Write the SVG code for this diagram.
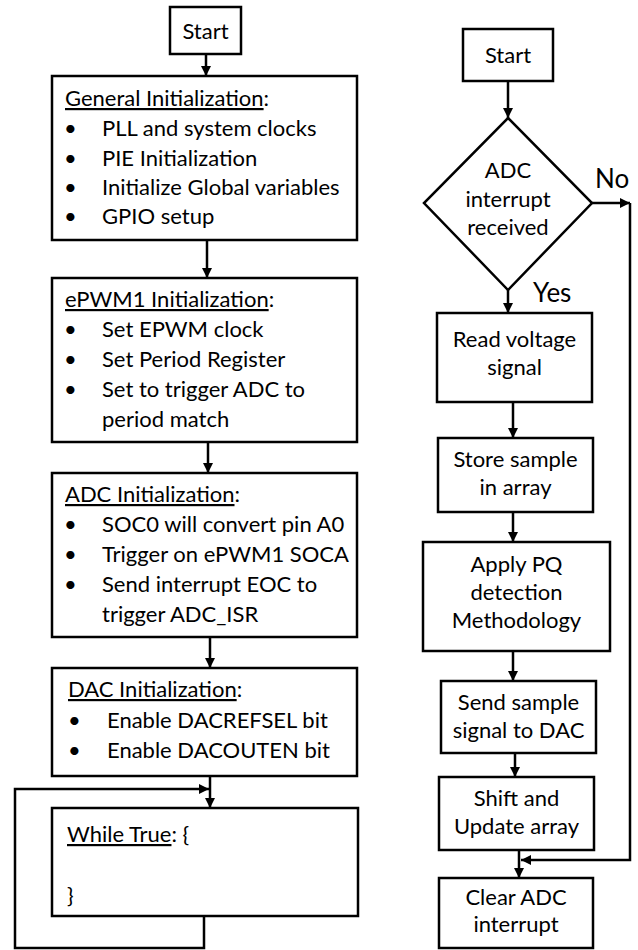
<svg xmlns="http://www.w3.org/2000/svg" width="638" height="950" viewBox="0 0 638 950">
<defs>
<marker id="ah" viewBox="0 0 10 10" refX="10" refY="5" markerWidth="10" markerHeight="10" markerUnits="userSpaceOnUse" orient="auto">
<path d="M0,0 L10,5 L0,10 z" fill="#000"/>
</marker>
</defs>
<style>
.box{fill:#fff;stroke:#000;stroke-width:2.5}
.t{font-family:Lato,"Open Sans","Liberation Sans",sans-serif;font-size:22px;fill:#000}
.c{text-anchor:middle}
.u{text-decoration:underline}
.ln{fill:none;stroke:#000;stroke-width:2.5}
</style>
<rect width="638" height="950" fill="#fff"/>
<g id="connectors">
<line class="ln" x1="206" y1="54" x2="206" y2="76" marker-end="url(#ah)"/>
<line class="ln" x1="207" y1="240" x2="207" y2="278" marker-end="url(#ah)"/>
<line class="ln" x1="208" y1="442" x2="208" y2="473" marker-end="url(#ah)"/>
<line class="ln" x1="210" y1="637" x2="210" y2="668" marker-end="url(#ah)"/>
<line class="ln" x1="210" y1="776" x2="210" y2="808" marker-end="url(#ah)"/>
<polyline class="ln" points="204,916 204,948 15,948 15,789 209,789" marker-end="url(#ah)"/>
<line class="ln" x1="508" y1="81" x2="508" y2="118" marker-end="url(#ah)"/>
<line class="ln" x1="508" y1="290" x2="508" y2="313" marker-end="url(#ah)"/>
<polyline class="ln" points="592,203 630,203" marker-end="url(#ah)"/>
<polyline class="ln" points="630,203 630,860 521,860" marker-end="url(#ah)"/>
<line class="ln" x1="513" y1="402" x2="513" y2="438" marker-end="url(#ah)"/>
<line class="ln" x1="513" y1="512" x2="513" y2="542" marker-end="url(#ah)"/>
<line class="ln" x1="513" y1="651" x2="513" y2="681" marker-end="url(#ah)"/>
<line class="ln" x1="515" y1="753" x2="515" y2="777" marker-end="url(#ah)"/>
<line class="ln" x1="519" y1="850" x2="519" y2="878" marker-end="url(#ah)"/>
<text class="t" x="595" y="188" style="font-size:26px">No</text>
<text class="t" x="533" y="302" style="font-size:26px">Yes</text>
</g>
<g id="start-left">
<rect class="box" x="170" y="7" width="71" height="47"/>
<text class="t c" x="205.5" y="39">Start</text>
</g>
<g id="general-init">
<rect class="box" x="52" y="76" width="305" height="164"/>
<text class="t" x="65" y="106"><tspan class="u">General Initialization</tspan>:</text>
<text class="t" x="64" y="136">•</text><text class="t" x="102" y="136">PLL and system clocks</text>
<text class="t" x="64" y="166">•</text><text class="t" x="102" y="166">PIE Initialization</text>
<text class="t" x="64" y="195">•</text><text class="t" x="102" y="195">Initialize Global variables</text>
<text class="t" x="64" y="224">•</text><text class="t" x="102" y="224">GPIO setup</text>
</g>
<g id="epwm-init">
<rect class="box" x="52" y="278" width="305" height="164"/>
<text class="t" x="65" y="307"><tspan class="u">ePWM1 Initialization</tspan>:</text>
<text class="t" x="64" y="337">•</text><text class="t" x="102" y="337">Set EPWM clock</text>
<text class="t" x="64" y="367">•</text><text class="t" x="102" y="367">Set Period Register</text>
<text class="t" x="64" y="397">•</text><text class="t" x="102" y="397">Set to trigger ADC to</text>
<text class="t" x="102" y="427">period match</text>
</g>
<g id="adc-init">
<rect class="box" x="52" y="473" width="305" height="164"/>
<text class="t" x="65" y="502"><tspan class="u">ADC Initialization</tspan>:</text>
<text class="t" x="64" y="532">•</text><text class="t" x="102" y="532">SOC0 will convert pin A0</text>
<text class="t" x="64" y="562">•</text><text class="t" x="102" y="562">Trigger on ePWM1 SOCA</text>
<text class="t" x="64" y="592">•</text><text class="t" x="102" y="592">Send interrupt EOC to</text>
<text class="t" x="102" y="622">trigger ADC_ISR</text>
</g>
<g id="dac-init">
<rect class="box" x="52" y="668" width="305" height="108"/>
<text class="t" x="68" y="697"><tspan class="u">DAC Initialization</tspan>:</text>
<text class="t" x="68" y="728">•</text><text class="t" x="107" y="728">Enable DACREFSEL bit</text>
<text class="t" x="68" y="758">•</text><text class="t" x="107" y="758">Enable DACOUTEN bit</text>
</g>
<g id="while-true">
<rect class="box" x="52" y="808" width="306" height="108"/>
<text class="t" x="67" y="842"><tspan class="u">While True</tspan>: {</text>
<text class="t" x="67" y="903">}</text>
</g>
<g id="start-right">
<rect class="box" x="463" y="29" width="90" height="52"/>
<text class="t c" x="508" y="63">Start</text>
</g>
<g id="decision">
<polygon class="box" points="508,118 592,203 508,290 424,203"/>
<text class="t c" x="508" y="178">ADC</text>
<text class="t c" x="508" y="207">interrupt</text>
<text class="t c" x="508" y="235">received</text>
</g>
<g id="read-voltage">
<rect class="box" x="437" y="313" width="155" height="89"/>
<text class="t c" x="514.5" y="347">Read voltage</text>
<text class="t c" x="514.5" y="375">signal</text>
</g>
<g id="store-sample">
<rect class="box" x="438" y="438" width="155" height="74"/>
<text class="t c" x="515.5" y="467">Store sample</text>
<text class="t c" x="515.5" y="495">in array</text>
</g>
<g id="apply-pq">
<rect class="box" x="423" y="542" width="187" height="109"/>
<text class="t c" x="516.5" y="572">Apply PQ</text>
<text class="t c" x="516.5" y="600">detection</text>
<text class="t c" x="516.5" y="628">Methodology</text>
</g>
<g id="send-sample">
<rect class="box" x="441" y="681" width="155" height="72"/>
<text class="t c" x="518.5" y="710">Send sample</text>
<text class="t c" x="518.5" y="738">signal to DAC</text>
</g>
<g id="shift-update">
<rect class="box" x="439" y="777" width="155" height="73"/>
<text class="t c" x="516.5" y="806">Shift and</text>
<text class="t c" x="516.5" y="834">Update array</text>
</g>
<g id="clear-adc">
<rect class="box" x="439" y="878" width="154" height="70"/>
<text class="t c" x="516" y="905">Clear ADC</text>
<text class="t c" x="516" y="932">interrupt</text>
</g>
</svg>
